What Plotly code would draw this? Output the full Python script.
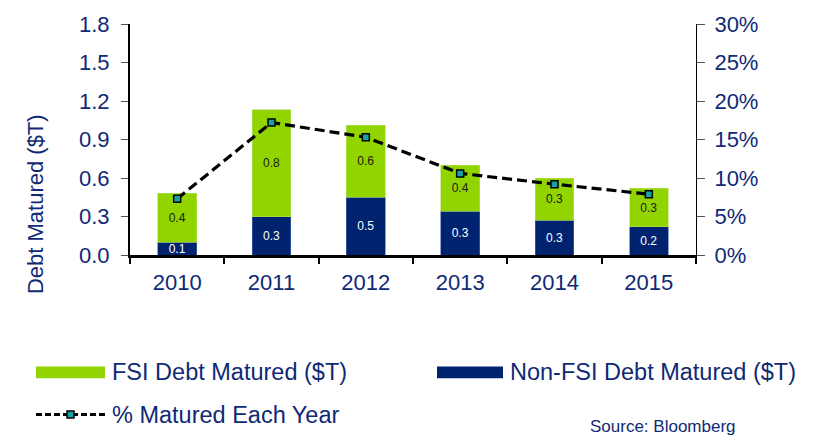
import plotly.graph_objects as go

years = ["2010", "2011", "2012", "2013", "2014", "2015"]
fsi_debt = [0.38, 0.83, 0.56, 0.36, 0.33, 0.30]
non_fsi_debt = [0.10, 0.30, 0.45, 0.34, 0.27, 0.22]
pct_matured = [0.073, 0.172, 0.153, 0.106, 0.092, 0.079]
series_names = ["FSI Debt Matured ($T)", "Non-FSI Debt Matured ($T)", "% Matured Each Year"]
left_ticks = [0.0, 0.3, 0.6, 0.9, 1.2, 1.5, 1.8]
right_ticks = [0.0, 0.05, 0.10, 0.15, 0.20, 0.25, 0.30]

GREEN = "#92d400"
NAVY = "#00236f"
TXT = "#0f2a75"
FONT = "Liberation Sans, Arial, sans-serif"

W, H = 815, 440
L, R, T, B = 130, 119, 19, 185
PW, PH = W - L - R, H - T - B

def px(x):
    return (x - L) / PW

def py(y):
    return (H - B - y) / PH

fig = go.Figure()
fig.add_trace(go.Bar(
    x=years, y=non_fsi_debt, name=series_names[1], marker_color=NAVY,
    marker_line=dict(color="#4a6aa8", width=0.6),
    texttemplate="%{y:.1f}", textposition="inside", insidetextanchor="middle",
    textfont=dict(color="white", size=12, family=FONT), width=0.41,
))
fig.add_trace(go.Bar(
    x=years, y=fsi_debt, name=series_names[0], marker_color=GREEN,
    marker_line=dict(color="#b5e060", width=0.6),
    texttemplate="%{y:.1f}", textposition="inside", insidetextanchor="middle",
    textfont=dict(color="#1a1a1a", size=12, family=FONT), width=0.41,
))
fig.add_trace(go.Scatter(
    x=years, y=pct_matured, name=series_names[2], yaxis="y2", mode="lines+markers",
    line=dict(color="black", width=3.2, dash="10px,5px"),
    marker=dict(symbol="square", size=7, color="#18a3a3", line=dict(color="black", width=1.5)),
))

fig.update_layout(
    width=W, height=H, barmode="stack", showlegend=False,
    margin=dict(l=L, r=R, t=T, b=B, pad=0),
    paper_bgcolor="white", plot_bgcolor="white",
    font=dict(family=FONT, color=TXT, size=22),
    uniformtext=dict(minsize=12, mode="show"),
    xaxis=dict(
        showline=True, linecolor="black", linewidth=3, ticks="outside", tickson="boundaries",
        ticklen=6, tickwidth=2, tickcolor="black", tickfont=dict(size=22, color=TXT),
        showgrid=False, ticklabelstandoff=6,
    ),
    yaxis=dict(
        range=[0, 1.8], tickvals=left_ticks, tickformat=".1f", showline=True, linecolor="black",
        linewidth=2, ticks="outside", ticklen=7, tickcolor="#555", tickfont=dict(size=22, color=TXT),
        showgrid=False, zeroline=False, ticklabelstandoff=7,
    ),
    yaxis2=dict(
        range=[0, 0.30], tickvals=right_ticks, tickformat=".0%", overlaying="y", side="right",
        showline=True, linecolor="black", linewidth=1, ticks="outside", ticklen=8, tickcolor="#555",
        tickfont=dict(size=22, color=TXT), showgrid=False, zeroline=False, ticklabelstandoff=5,
    ),
)

shapes = [
    dict(type="rect", xref="paper", yref="paper", x0=px(36), x1=px(105), y0=py(381), y1=py(369),
         fillcolor=GREEN, line=dict(width=0)),
    dict(type="rect", xref="paper", yref="paper", x0=px(437), x1=px(503), y0=py(381), y1=py(369),
         fillcolor=NAVY, line=dict(width=0)),
    dict(type="line", xref="paper", yref="paper", x0=px(36), x1=px(105), y0=py(418), y1=py(418),
         line=dict(color="black", width=3, dash="6px,3px")),
    dict(type="rect", xref="paper", yref="paper", x0=px(67), x1=px(74), y0=py(421.5), y1=py(414.5),
         fillcolor="#18a3a3", line=dict(color="black", width=1.5)),
]
annotations = [
    dict(text=series_names[0], x=px(110), y=py(375), xref="paper", yref="paper",
         xanchor="left", yanchor="middle", showarrow=False, font=dict(size=23.5, color=TXT)),
    dict(text=series_names[1], x=px(508), y=py(375), xref="paper", yref="paper",
         xanchor="left", yanchor="middle", showarrow=False, font=dict(size=23.5, color=TXT)),
    dict(text=series_names[2], x=px(110), y=py(418), xref="paper", yref="paper",
         xanchor="left", yanchor="middle", showarrow=False, font=dict(size=23.5, color=TXT)),
    dict(text="Source: Bloomberg", x=px(588), y=py(430), xref="paper", yref="paper",
         xanchor="left", yanchor="middle", showarrow=False, font=dict(size=17, color=TXT)),
    dict(text="Debt Matured ($T)", x=px(35), y=py(203), xref="paper", yref="paper",
         xanchor="center", yanchor="middle", textangle=-90, showarrow=False,
         font=dict(size=22, color=TXT)),
]
fig.update_layout(shapes=shapes, annotations=annotations)

fig.write_html(
    "out.html",
    config={"displayModeBar": False},
    post_script="document.body.style.margin='0';document.body.style.padding='0';",
)
